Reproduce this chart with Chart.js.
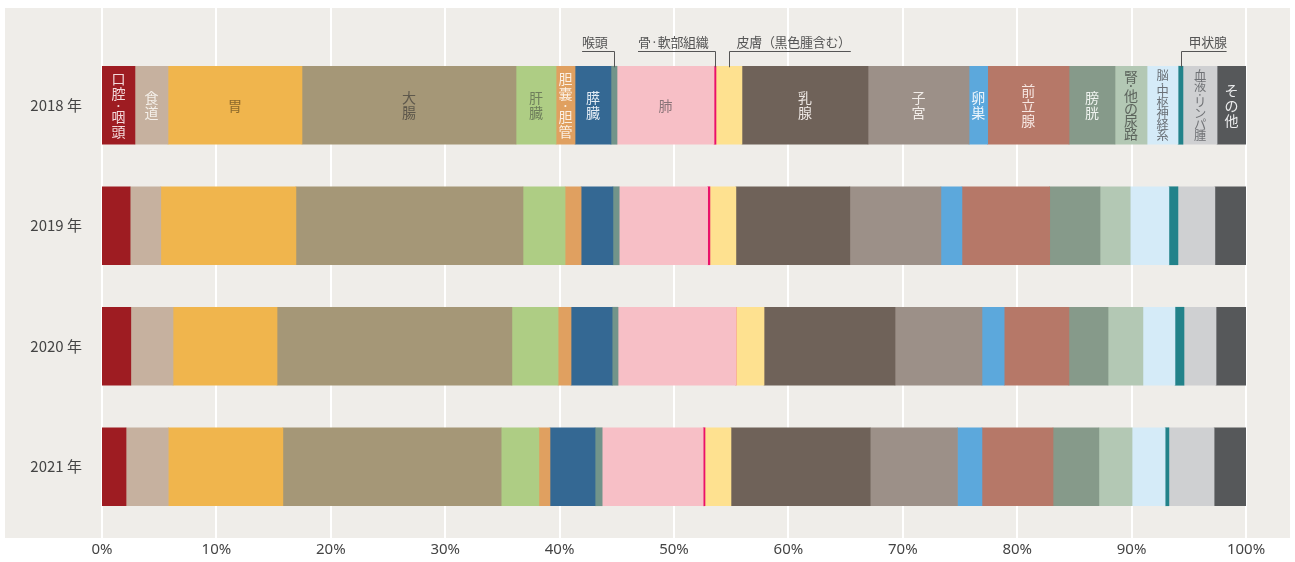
<!DOCTYPE html>
<html>
<head>
<meta charset="utf-8">
<script src="https://cdn.jsdelivr.net/npm/chart.js@4/dist/chart.umd.min.js"></script>
<style>
  html, body { margin: 0; padding: 0; background: #fff; }
  #wrap { width: 1295px; height: 562px; position: relative; }
</style>
</head>
<body>
<div id="wrap"><canvas id="chart"></canvas></div>
<script>
const years = ["2018 年", "2019 年", "2020 年", "2021 年"];

const sites = [
  "口腔·咽頭", "食道", "胃", "大腸", "肝臓", "胆嚢·胆管", "膵臓", "喉頭", "肺",
  "骨·軟部組織", "皮膚（黒色腫含む）", "乳腺", "子宮", "卵巣", "前立腺", "膀胱",
  "腎·他の尿路", "脳·中枢神経系", "甲状腺", "血液·リンパ腫", "その他"
];

// share of each site (%)
const share2018 = [2.88, 2.89, 11.71, 18.71, 3.50, 1.66, 3.14, 0.53, 8.48, 0.17, 2.27, 11.02, 8.83, 1.63, 7.11, 4.02, 2.80, 2.71, 0.43, 2.98, 2.53];
const share2019 = [2.46, 2.68, 11.81, 19.85, 3.68, 1.40, 2.78, 0.55, 7.73, 0.20, 2.27, 9.96, 7.96, 1.84, 7.67, 4.40, 2.64, 3.38, 0.79, 3.23, 2.72];
const share2020 = [2.52, 3.69, 9.09, 20.53, 4.04, 1.13, 3.59, 0.52, 10.30, 0, 2.46, 11.45, 7.60, 1.94, 5.66, 3.42, 3.05, 2.80, 0.79, 2.80, 2.62];
const share2021 = [2.10, 3.69, 10.02, 19.08, 3.30, 0.97, 3.94, 0.62, 8.83, 0.16, 2.27, 12.17, 7.63, 2.14, 6.21, 4.01, 2.90, 2.89, 0.33, 3.95, 2.79];

const tickLabels = ["0%", "10%", "20%", "30%", "40%", "50%", "60%", "70%", "80%", "90%", "100%"];

const colors = [
  "#9e1c22", "#c6b19f", "#f0b54d", "#a59777", "#aecd84", "#e0a060", "#346893", "#72948a", "#f7bfc6",
  "#ea1169", "#fee190", "#6f6259", "#9c9088", "#5ca8dc", "#b67868", "#869a8a",
  "#b3c8b4", "#d5ebf8", "#22828a", "#cfd0d2", "#56585a"
];

// labels written inside the 2018 bar ("" = none, uses a callout instead)
const inBarText = [
  "口腔·咽頭", "食道", "胃", "大腸", "肝臓", "胆嚢·胆管", "膵臓", "", "肺",
  "", "", "乳腺", "子宮", "卵巣", "前立腺", "膀胱",
  "腎·他の尿路", "脳·中枢神経系", "", "血液·リンパ腫", "その他"
];
const inBarColor = [
  "#f3d9db", "#f4efe9", "#8d6a2c", "#5e584c", "#6f7f5c", "#fbefe3", "#e3ecf4", "", "#8a7478",
  "", "", "#ece6e2", "#f1ece8", "#eef6fc", "#f6e6e1", "#eef2ee",
  "#5d655d", "#6b7177", "", "#707276", "#ecedee"
];

// callouts above the 2018 bar: site index and side where the text sits
const calloutSite = [7, 9, 10, 18];
const calloutSide = ["left", "left", "right", "right"];

const allShares = [share2018, share2019, share2020, share2021];

const datasets = sites.map((name, i) => ({
  label: name,
  data: allShares.map(row => row[i]),
  backgroundColor: colors[i],
  borderWidth: 0,
  barThickness: 78
}));

const cjk = '"Noto Sans CJK JP", "Noto Sans", sans-serif';

// grey panel + white grid lines behind the bars
const panel = {
  id: "panel",
  beforeDraw(chart) {
    const ctx = chart.ctx;
    ctx.save();
    ctx.fillStyle = "#efede9";
    ctx.fillRect(5, 8, 1285, 530);
    ctx.restore();
  },
  beforeDatasetsDraw(chart) {
    const ctx = chart.ctx;
    const x = chart.scales.x;
    ctx.save();
    ctx.strokeStyle = "#ffffff";
    ctx.lineWidth = 2;
    for (let v = 0; v <= 100; v += 10) {
      const px = Math.round(x.getPixelForValue(v));
      ctx.beginPath();
      ctx.moveTo(px, 8);
      ctx.lineTo(px, 538);
      ctx.stroke();
    }
    ctx.restore();
  }
};

// vertical labels inside the first row, and the callouts above it
const labels = {
  id: "labels",
  afterDatasetsDraw(chart) {
    const ctx = chart.ctx;
    ctx.save();
    ctx.textAlign = "center";
    ctx.textBaseline = "middle";

    inBarText.forEach((txt, i) => {
      if (!txt) return;
      const bar = chart.getDatasetMeta(i).data[0];
      const cx = (bar.x + bar.base) / 2;
      const chars = Array.from(txt);
      const units = chars.reduce((s, c) => s + (c === "·" ? 0.5 : 1), 0);
      let adv = 15;
      if (units * adv > 70) adv = 70 / units;
      const size = Math.min(14, adv + 1.5);
      ctx.font = size + "px " + cjk;
      ctx.fillStyle = inBarColor[i];
      let y = bar.y - (units * adv) / 2;
      chars.forEach(c => {
        const a = c === "·" ? adv * 0.5 : adv;
        ctx.fillText(c, cx, y + a / 2);
        y += a;
      });
    });

    ctx.font = "13px " + cjk;
    ctx.letterSpacing = "-0.3px";
    ctx.strokeStyle = "#555555";
    ctx.fillStyle = "#555555";
    ctx.lineWidth = 1;
    ctx.textBaseline = "alphabetic";
    calloutSite.forEach((si, k) => {
      const bar = chart.getDatasetMeta(si).data[0];
      const cx = Math.round((bar.x + bar.base) / 2) + 0.5;
      const top = bar.y - bar.height / 2;
      const lineY = Math.round(top - 15) + 0.5;
      const txt = sites[si];
      const w = ctx.measureText(txt).width;
      let x0, x1;
      if (calloutSide[k] === "left") {
        ctx.textAlign = "right";
        ctx.fillText(txt, cx - 7, lineY - 5);
        x0 = cx - 7 - w;
        x1 = cx;
      } else {
        ctx.textAlign = "left";
        ctx.fillText(txt, cx + 7, lineY - 5);
        x0 = cx;
        x1 = cx + 7 + w;
      }
      ctx.beginPath();
      ctx.moveTo(x0, lineY);
      ctx.lineTo(x1, lineY);
      ctx.moveTo(cx, lineY);
      ctx.lineTo(cx, top + 1);
      ctx.stroke();
    });
    ctx.restore();
  }
};

new Chart(document.getElementById("chart"), {
  type: "bar",
  data: { labels: years, datasets: datasets },
  options: {
    indexAxis: "y",
    responsive: true,
    maintainAspectRatio: false,
    animation: false,
    devicePixelRatio: 1,
    layout: { padding: { left: 0, right: 49, top: 45, bottom: 0 } },
    plugins: {
      legend: { display: false },
      tooltip: { enabled: false }
    },
    scales: {
      x: {
        stacked: true,
        min: 0,
        max: 100,
        grid: { display: false, drawTicks: false },
        border: { display: false },
        ticks: {
          stepSize: 10,
          padding: 14,
          color: "#444444",
          font: { size: 15, family: '"Noto Sans", sans-serif' },
          callback: (v, idx) => tickLabels[idx]
        },
        afterFit: s => { s.height = 35; }
      },
      y: {
        stacked: true,
        grid: { display: false, drawTicks: false },
        border: { display: false },
        ticks: {
          padding: 20,
          color: "#444444",
          font: { size: 15, family: cjk }
        },
        afterFit: s => { s.width = 102; }
      }
    }
  },
  plugins: [panel, labels]
});
</script>
</body>
</html>
